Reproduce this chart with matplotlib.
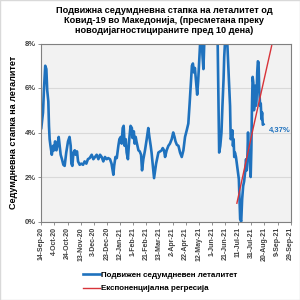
import numpy as np
import pandas as pd
import matplotlib
matplotlib.use("Agg")
import matplotlib.pyplot as plt
from matplotlib.patches import Rectangle

plt.rcParams['font.family'] = ['Liberation Sans', 'DejaVu Sans']

# Подвижна стапка на леталитет (%), денови од 14-Sep-20
start = pd.Timestamp('2020-09-14')
days = [0, 2.6, 4, 6, 7.7, 9, 10.7, 11.7, 12.7, 14, 16, 18, 19.4, 21, 23, 24.4, 26.5, 28, 29.5,
        31.5, 33.6, 35.6, 38, 40.7, 43, 44.8, 45.8, 47.3, 49, 51, 52.4, 54.4, 56, 58.5, 61,
        63.6, 66, 68.6, 71, 73.7, 76.8, 79.3, 81.9, 84.4, 87, 89.5, 92, 94.5, 97, 99.6, 102,
        104.7, 107, 109.8, 111, 113, 115, 117.4, 119, 121, 122.5, 124, 125.5, 127, 128.6, 130,
        132, 134, 136, 138, 139, 141, 142.3, 143.8, 145, 148, 150, 152, 153.5, 155.5, 158,
        160.6, 163, 164.7, 166.7, 168, 170, 171.8, 173, 174.9, 177, 178.4, 181, 183.5, 185,
        187, 188.6, 191, 193.6, 196, 198.7, 201, 203, 204.5, 206.5, 209, 211.4, 214, 216.5,
        219, 221.6, 224, 226, 228, 229.5, 231, 232.5, 234, 236, 237.5, 239, 241, 242.5, 244,
        245.5, 247, 248.5, 251, 255, 259, 263, 267, 268.5, 271, 272.7, 274.5, 276, 277.7,
        278.7, 280, 281.5, 283, 284, 285, 286, 287.6, 288.6, 290, 291, 292, 293, 294, 295,
        296.6, 298, 299.7, 301, 302, 303, 304.6, 306, 307.6, 309, 310.5, 312, 313, 314, 315,
        316, 317, 318, 319, 320, 321, 322, 323, 324, 325, 326, 327, 328, 329, 330, 331, 332,
        333.4, 334.4, 335.4, 336.4, 337.5, 338.5]
rate = [4.2, 4.9, 5.9, 7.0, 6.85, 5.9, 5.4, 4.3, 3.7, 3.4, 3.0, 3.4, 3.2, 3.6, 3.2, 3.4, 3.8, 3.4,
        3.0, 2.8, 2.55, 2.5, 3.1, 3.6, 3.8, 3.4, 2.6, 2.5, 3.1, 3.2, 3.0, 3.15, 2.7, 2.55, 2.6,
        2.55, 2.7, 2.6, 2.8, 2.85, 3.0, 2.8, 2.9, 3.0, 2.8, 3.0, 2.9, 2.7, 2.9, 2.8, 2.85, 2.8,
        2.6, 2.1, 2.5, 2.9, 2.85, 3.4, 3.7, 3.8, 3.5, 4.2, 4.3, 3.4, 3.7, 3.1, 2.8, 3.7, 4.3,
        4.2, 3.75, 4.05, 3.5, 3.8, 3.6, 3.2, 3.15, 3.0, 2.3, 2.8, 3.2, 3.7, 4.2, 3.8, 3.4, 3.1,
        2.5, 1.95, 2.2, 2.6, 2.9, 3.1, 3.15, 3.2, 3.3, 3.2, 2.9, 3.2, 3.4, 3.5, 3.7, 4.0, 3.8,
        3.6, 3.45, 3.4, 3.1, 2.9, 3.2, 3.8, 4.1, 4.4, 5.3, 6.3, 7.0, 7.1, 6.7, 6.9, 6.2, 5.7,
        6.3, 7.4, 8.3, 8.6, 7.5, 6.85, 8.2, 9.5, 10.5, 11.0, 10.2, 9.0, 8.5, 3.1, 3.4, 4.0,
        5.2, 6.4, 7.4, 8.1, 8.6, 8.3, 7.6, 7.0, 6.25, 5.2, 3.7, 3.8, 4.1, 3.4, 3.7, 2.9, 3.1,
        2.9, 2.6, 2.2, 1.9, 1.0, 0.1, 0.0, 1.0, 1.6, 1.8, 2.2, 2.8, 2.3, 2.9, 4.0, 3.1, 3.2,
        2.5, 2.0, 3.2, 5.2, 6.5, 6.25, 5.0, 5.3, 6.1, 5.2, 5.5, 6.7, 7.2, 7.15, 5.95, 5.2,
        5.3, 4.6, 4.9, 4.35, 4.37]

# Експоненцијална регресија (точки од линијата)
reg_days = [298, 324, 351]
reg_rate = [0.82, 4.35, 7.9]

last_label = '4,37%'
tick_start = '2020-09-14'
tick_end = '2021-09-29'

dates = start + pd.to_timedelta(days, unit='D')
reg_dates = start + pd.to_timedelta(reg_days, unit='D')
ticks = pd.date_range(tick_start, tick_end, freq='20D')

blue = '#1f72be'
red = '#d8343a'
bold = 'bold'

fig = plt.figure(figsize=(3, 3), dpi=100)
fig.patches.append(Rectangle((0, 0), 1, 1, transform=fig.transFigure, fill=False,
                             edgecolor='#d9d9d9', linewidth=1))
ax = fig.add_axes([41.3 / 300, 1 - 221.5 / 300, 249.4 / 300, 178 / 300])
ax.set_facecolor('#f2f2f2')

ax.plot(dates, rate, color=blue, linewidth=1.9, label='Подвижен седумдневен леталитет',
        solid_joinstyle='round')
ax.plot(reg_dates, reg_rate, color=red, linewidth=1.0, label='Експоненцијална регресија')

ax.set_ylim(0, 8)
ax.set_xlim(ticks[0], ticks[-1])
ax.set_yticks([0, 2, 4, 6, 8])
ax.set_yticklabels([f'{v}%' for v in [0, 2, 4, 6, 8]], fontsize=5.5, fontweight=bold,
                   color='#404040')
ax.set_xticks(ticks)
ax.set_xticklabels([f'{d.day}-{d.strftime("%b-%y")}' for d in ticks], rotation=90,
                   fontsize=5, fontweight=bold, color='#404040')
ax.tick_params(axis='both', length=2, width=0.6, color='#808080', pad=2)
ax.grid(axis='y', color='#d9d9d9', linewidth=0.8)
ax.set_axisbelow(True)
for s in ax.spines.values():
    s.set_color('#808080')
    s.set_linewidth(0.8)

ax.text(dates[-1] + pd.Timedelta(days=8), 4.1, last_label, color=blue, fontsize=5.5,
        fontweight=bold, va='center', ha='left')

ax.set_ylabel('Седумдневна стапка на леталитет', fontsize=6.5, fontweight=bold, labelpad=5)
fig.text(164 / 300, 1 - 6 / 300,
         'Подвижна седумдневна стапка на леталитет од\nКовид-19 во Македонија, (пресметана преку\nноводијагностицираните пред 10 дена)',
         ha='center', va='top', fontsize=6.6, fontweight=bold, linespacing=1.15)

fig.legend(loc='center', bbox_to_anchor=(160 / 300, 1 - 282 / 300), frameon=False,
           prop={'size': 5.8, 'weight': 'bold'}, handlelength=2.1, handletextpad=0.15,
           labelspacing=0.7, borderpad=0)

fig.savefig('out.png', dpi=100)
